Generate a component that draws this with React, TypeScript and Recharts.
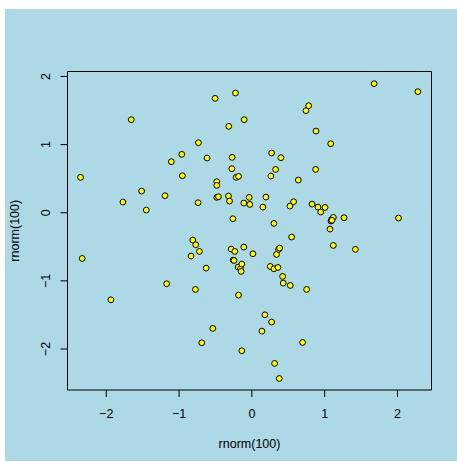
import React from 'react';
import { ScatterChart, Scatter, XAxis, YAxis, ReferenceArea, Label } from 'recharts';

const xValues = [
  -2.353, -2.330, -1.936, -1.771, -1.656, -1.514, -1.450, -1.193, -1.170, -1.106,
  -0.963, -0.954, -0.835, -0.812, -0.771, -0.775, -0.734, -0.739, -0.720, -0.688,
  -0.628, -0.615, -0.537, -0.505, -0.482, -0.482, -0.482, -0.459, -0.321, -0.317,
  -0.307, -0.284, -0.271, -0.275, -0.261, -0.257, -0.234, -0.225, -0.216, -0.183,
  -0.188, -0.183, -0.156, -0.147, -0.138, -0.138, -0.110, -0.110, -0.106, -0.037,
  -0.028, 0.014, 0.138, 0.151, 0.179, 0.193, 0.252, 0.261, 0.271, 0.271,
  0.303, 0.303, 0.312, 0.326, 0.339, 0.358, 0.367, 0.376, 0.381, 0.399,
  0.422, 0.431, 0.523, 0.528, 0.546, 0.573, 0.638, 0.697, 0.743, 0.752,
  0.780, 0.826, 0.876, 0.881, 0.908, 0.945, 1.005, 1.073, 1.083, 1.087,
  1.096, 1.119, 1.119, 1.266, 1.422, 1.679, 2.014, 2.280, -0.245, 1.100,
];

const yValues = [
  0.519, -0.671, -1.278, 0.157, 1.366, 0.318, 0.039, 0.250, -1.043, 0.749,
  0.857, 0.543, -0.636, -0.401, -0.470, -1.126, 1.028, 0.147, -0.568, -1.909,
  -0.813, 0.803, -1.698, 1.679, 0.455, 0.401, 0.225, 0.235, 0.245, 1.268,
  0.171, -0.534, 0.813, 0.646, -0.088, -0.695, -0.568, 1.757, 0.519, 0.534,
  -0.798, -1.209, -0.822, -0.861, -0.754, -2.026, -0.504, 0.142, 1.366, 0.225,
  0.122, -0.602, -1.738, 0.083, -1.498, 0.230, -0.788, 0.538, -1.605, 0.876,
  -0.157, -0.822, -2.212, 0.636, -0.612, -0.803, -0.538, -2.433, -0.519, 0.808,
  -0.935, -1.033, 0.098, -1.067, -0.357, 0.162, 0.480, -1.904, 1.498, -1.126,
  1.571, 0.127, 0.636, 1.199, 0.083, 0.010, 0.078, -0.240, 1.013, -0.122,
  -0.098, -0.069, -0.480, -0.073, -0.538, 1.894, -0.078, 1.777, -0.700, -0.110,
];

const xTicks = [-2, -1, 0, 1, 2];
const yTicks = [-2, -1, 0, 1, 2];
const xDomain: [number, number] = [-2.532, 2.467];
const yDomain: [number, number] = [-2.602, 2.073];
const xTitle = 'rnorm(100)';
const yTitle = 'rnorm(100)';

const data = xValues.map((x, i) => ({ x, y: yValues[i] }));

const FONT = '"Liberation Sans", Arial, Helvetica, sans-serif';
const FS = 12.5;

const fmt = (v: number) => (v < 0 ? '\u2212' + Math.abs(v) : String(v));

const XTick = (props: any) => {
  const { x, y, payload } = props;
  return (
    <text x={x} y={y} dy="0.72em" textAnchor="middle" fontFamily={FONT} fontSize={FS} fill="#000">
      {fmt(payload.value)}
    </text>
  );
};

const YTick = (props: any) => {
  const { x, y, payload } = props;
  return (
    <text x={x} y={y} transform={`rotate(-90, ${x}, ${y})`} textAnchor="middle" fontFamily={FONT} fontSize={FS} fill="#000">
      {fmt(payload.value)}
    </text>
  );
};

const Dot = (props: any) => {
  const { cx, cy } = props;
  return <circle cx={cx} cy={cy} r={2.9} fill="#FFFF00" stroke="#000" strokeWidth={1} />;
};

const XLabel = (props: any) => {
  const vb = props.viewBox || {};
  const cx = vb.x + vb.width / 2;
  return (
    <text x={cx} y={447.5} textAnchor="middle" fontFamily={FONT} fontSize={FS} fill="#000">
      {xTitle}
    </text>
  );
};

const YLabel = (props: any) => {
  const vb = props.viewBox || {};
  const cy = vb.y + vb.height / 2;
  const bx = 18.5;
  return (
    <text x={bx} y={cy} transform={`rotate(-90, ${bx}, ${cy})`} textAnchor="middle" fontFamily={FONT} fontSize={FS} fill="#000">
      {yTitle}
    </text>
  );
};

export default function App() {
  return (
    <div style={{ position: 'fixed', left: 0, top: 0, width: 457, height: 462, background: '#ffffff' }}>
      <div style={{ position: 'absolute', left: 5, top: 9, width: 452, height: 452, background: '#ADD8E6' }} />
      <div style={{ position: 'absolute', left: 0, top: 0 }}>
        <ScatterChart width={457} height={462} margin={{ top: 71.5, right: 25.5, bottom: 0, left: 0.5 }}>
          <XAxis
            type="number"
            dataKey="x"
            domain={xDomain}
            ticks={xTicks}
            allowDataOverflow
            axisLine={false}
            tickLine={{ stroke: '#000' }}
            tickSize={7}
            tickMargin={12}
            tick={<XTick />}
            height={72}
            interval={0}
          >
            <Label content={<XLabel />} />
          </XAxis>
          <YAxis
            type="number"
            dataKey="y"
            domain={yDomain}
            ticks={yTicks}
            allowDataOverflow
            axisLine={false}
            tickLine={{ stroke: '#000' }}
            tickSize={7}
            tickMargin={10}
            tick={<YTick />}
            width={67}
            interval={0}
          >
            <Label content={<YLabel />} />
          </YAxis>
          <ReferenceArea x1={xDomain[0]} x2={xDomain[1]} y1={yDomain[0]} y2={yDomain[1]} fill="none" stroke="#000" strokeWidth={1} fillOpacity={0} ifOverflow="visible" />
          <Scatter data={data} shape={<Dot />} isAnimationActive={false} />
        </ScatterChart>
      </div>
    </div>
  );
}
